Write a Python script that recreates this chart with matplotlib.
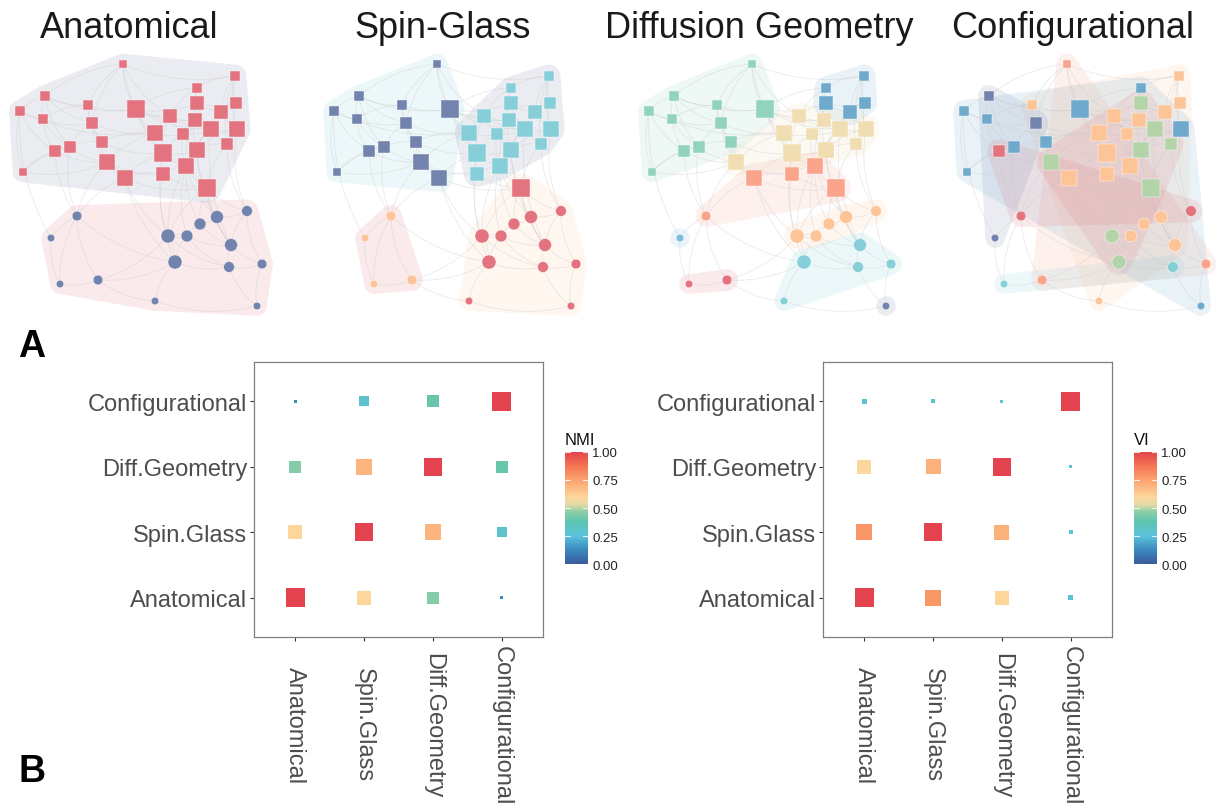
import numpy as np
import matplotlib.pyplot as plt
from matplotlib.colors import LinearSegmentedColormap, Normalize
from matplotlib.patches import Polygon
from matplotlib.cm import ScalarMappable
from matplotlib.collections import LineCollection
import matplotlib.transforms as mtransforms

plt.rcParams['font.family'] = ['Liberation Sans', 'DejaVu Sans']

# network layout shared by the four panels (pixel coords of the first panel)
node_x = [123, 235, 197, 45, 88, 136, 197, 236, 20, 43,
          170, 221, 195, 92, 155, 183, 211, 237, 102, 70,
          55, 227, 163, 197, 107, 186, 23, 163, 125, 207,
          77, 51, 247, 217, 200, 168, 187, 231, 175, 229,
          262, 60, 98, 155, 257]
node_y = [65, 77, 89, 97, 106, 110, 104, 104, 112, 120,
          117, 113, 121, 124, 134, 135, 130, 130, 143, 148,
          152, 145, 154, 151, 163, 167, 173, 175, 179, 189,
          217, 239, 212, 218, 225, 237, 237, 246, 263, 268,
          265, 285, 281, 302, 307]
node_size = [8, 10, 10, 9, 10, 16, 13, 11, 9, 10,
             13, 13, 13, 12, 15, 12, 14, 14, 11, 12,
             11, 12, 16, 15, 15, 15, 8, 13, 15, 16,
             9, 7, 10, 12, 11, 13, 11, 12, 13, 10,
             9, 7, 9, 7, 7]
node_shape = ['s'] * 30 + ['o'] * 15

edges = [(0, 5), (0, 3), (0, 4), (0, 1), (0, 13), (0, 10), (0, 22),
         (1, 2), (1, 7), (1, 11), (1, 17), (1, 21),
         (2, 6), (2, 10), (2, 12), (2, 5),
         (3, 8), (3, 9), (3, 4), (3, 5), (3, 19), (3, 13),
         (4, 5), (4, 13), (4, 9), (4, 18),
         (5, 10), (5, 14), (5, 12), (5, 6), (5, 16), (5, 22),
         (6, 7), (6, 12), (6, 11), (6, 16), (7, 11), (7, 17),
         (8, 9), (8, 26), (8, 20), (8, 14),
         (9, 19), (9, 20), (9, 13),
         (10, 14), (10, 15), (10, 12), (10, 16), (10, 22),
         (11, 16), (11, 17), (11, 23),
         (12, 15), (12, 16), (12, 23), (12, 25),
         (13, 18), (13, 19), (13, 24), (13, 14),
         (14, 15), (14, 22), (14, 18), (14, 24),
         (15, 16), (15, 23), (15, 22), (15, 25),
         (16, 17), (16, 21), (16, 23), (16, 25), (17, 21), (17, 23),
         (18, 19), (18, 24), (18, 28), (18, 22),
         (19, 20), (19, 24), (19, 26), (20, 24), (20, 26),
         (21, 23), (21, 29), (22, 25), (22, 27), (22, 28), (22, 23),
         (23, 25), (23, 29), (24, 28), (24, 27), (25, 29), (25, 27),
         (26, 24), (27, 28), (27, 29), (28, 29),
         (28, 30), (24, 30), (19, 30), (20, 30), (8, 31),
         (29, 33), (29, 34), (29, 35), (29, 32), (25, 34), (25, 35),
         (25, 36), (23, 37), (27, 35), (28, 35), (28, 38), (22, 38),
         (16, 37), (29, 37), (25, 33), (17, 32), (21, 32),
         (30, 31), (30, 41), (30, 42), (30, 38), (31, 41), (41, 42),
         (42, 38), (42, 43), (42, 35), (35, 36), (35, 34), (34, 33),
         (33, 32), (33, 37), (32, 37), (32, 40), (36, 37), (36, 38),
         (37, 39), (37, 40), (38, 39), (38, 43), (38, 35), (39, 40),
         (39, 44), (40, 44), (43, 44), (35, 39), (36, 39), (34, 37)]

palette = {'red': '#E3737E', 'slate': '#7283AE', 'cyan': '#86CFD8',
           'peach': '#FDC497', 'green': '#92D3BD', 'blue': '#6FA9CC',
           'tan': '#F0DDB2', 'salmon': '#FBA48C', 'sky': '#7BBEDA',
           'sage': '#B3D4A8'}

titles = ['Anatomical', 'Spin-Glass', 'Diffusion Geometry', 'Configurational']
title_x = [129, 443, 759, 1073]
panel_dx = [0, 314, 629, 944]

anatomical = ['red'] * 30 + ['slate'] * 15
spin_glass = ['slate', 'cyan', 'cyan', 'slate', 'slate', 'slate', 'cyan', 'cyan', 'slate', 'slate',
              'cyan', 'cyan', 'cyan', 'slate', 'cyan', 'cyan', 'cyan', 'cyan', 'slate', 'slate',
              'slate', 'cyan', 'cyan', 'cyan', 'slate', 'cyan', 'slate', 'cyan', 'slate', 'red',
              'peach', 'peach', 'red', 'red', 'red', 'red', 'red', 'red', 'red', 'red',
              'red', 'peach', 'peach', 'red', 'red']
diffusion = ['green', 'blue', 'blue', 'green', 'green', 'green', 'blue', 'blue', 'green', 'green',
             'tan', 'blue', 'tan', 'green', 'tan', 'tan', 'tan', 'tan', 'green', 'green',
             'green', 'tan', 'tan', 'tan', 'tan', 'salmon', 'green', 'salmon', 'salmon', 'salmon',
             'salmon', 'sky', 'peach', 'peach', 'peach', 'peach', 'peach', 'cyan', 'cyan', 'cyan',
             'cyan', 'red', 'red', 'cyan', 'slate']
configurational = ['salmon', 'peach', 'blue', 'slate', 'peach', 'blue', 'sage', 'peach', 'blue', 'blue',
                   'peach', 'peach', 'peach', 'slate', 'peach', 'peach', 'sage', 'blue', 'blue', 'blue',
                   'red', 'sage', 'peach', 'sage', 'sage', 'peach', 'blue', 'peach', 'peach', 'sage',
                   'red', 'slate', 'red', 'peach', 'peach', 'sage', 'peach', 'peach', 'sage', 'cyan',
                   'salmon', 'cyan', 'salmon', 'peach', 'blue']
memberships = [anatomical, spin_glass, diffusion, configurational]

# hull fill colour used for each community
hull_fill = [{'red': 'slate', 'slate': 'red'},
             {'slate': 'cyan', 'cyan': 'slate', 'red': 'peach', 'peach': 'red'},
             {},
             {'sage': 'red'}]

methods = ['Anatomical', 'Spin.Glass', 'Diff.Geometry', 'Configurational']
nmi = np.array([[1.00, 0.60, 0.45, 0.13],
                [0.60, 1.00, 0.70, 0.29],
                [0.45, 0.70, 1.00, 0.40],
                [0.13, 0.29, 0.40, 1.00]])
vi = np.array([[1.00, 0.78, 0.60, 0.27],
               [0.78, 1.00, 0.71, 0.255],
               [0.60, 0.71, 1.00, 0.25],
               [0.27, 0.255, 0.25, 1.00]])

cmap = LinearSegmentedColormap.from_list('spec', [
    (0.0, '#3B5A9B'), (0.12, '#3A87BE'), (0.25, '#5BC2DC'), (0.38, '#5EC4AF'),
    (0.47, '#8FCFA6'), (0.53, '#E4DAA4'), (0.6, '#FDD69C'), (0.75, '#FBA36E'),
    (0.88, '#F47452'), (1.0, '#E2434F')])


def convex_hull(pts):
    pts = sorted(map(tuple, pts))

    def cross(o, a, b):
        return (a[0] - o[0]) * (b[1] - o[1]) - (a[1] - o[1]) * (b[0] - o[0])
    lower, upper = [], []
    for p in pts:
        while len(lower) >= 2 and cross(lower[-2], lower[-1], p) <= 0:
            lower.pop()
        lower.append(p)
    for p in reversed(pts):
        while len(upper) >= 2 and cross(upper[-2], upper[-1], p) <= 0:
            upper.pop()
        upper.append(p)
    return np.array(lower[:-1] + upper[:-1])


def padded_hull(xs, ys, rs):
    ang = np.linspace(0, 2 * np.pi, 40, endpoint=False)
    pts = np.concatenate([np.c_[x + r * np.cos(ang), y + r * np.sin(ang)]
                          for x, y, r in zip(xs, ys, rs)])
    return convex_hull(pts)


def arc(p, q, bend=0.15, n=24):
    p = np.asarray(p, float)
    q = np.asarray(q, float)
    d = q - p
    ctrl = (p + q) / 2 + bend * np.array([-d[1], d[0]])
    t = np.linspace(0, 1, n)[:, None]
    return (1 - t) ** 2 * p + 2 * (1 - t) * t * ctrl + t ** 2 * q


fig = plt.figure(figsize=(12.17, 8.04), dpi=100)
net = fig.add_axes([0, 0, 1, 1])
net.set_xlim(0, 1217)
net.set_ylim(804, 0)
net.axis('off')

nx = np.array(node_x, float)
ny = np.array(node_y, float)
ns = np.array(node_size, float) * 1.08

for k in range(4):
    xs = nx + panel_dx[k]
    comm = memberships[k]
    # community hulls
    for c in dict.fromkeys(comm):
        idx = [i for i, m in enumerate(comm) if m == c]
        poly = padded_hull(xs[idx], ny[idx], ns[idx] / 2 + 6)
        fill = palette[hull_fill[k].get(c, c)]
        net.add_patch(Polygon(poly, closed=True, facecolor=fill, edgecolor='none',
                              alpha=0.15, zorder=1))
    # edges
    segs = [arc((xs[a], ny[a]), (xs[b], ny[b])) for a, b in edges]
    net.add_collection(LineCollection(segs, colors='#C8C8C8', linewidths=0.55,
                                      alpha=0.4, zorder=2))
    # nodes
    cols = [palette[m] for m in comm]
    for shape in ['s', 'o']:
        idx = [i for i in range(len(comm)) if node_shape[i] == shape]
        net.scatter(xs[idx], ny[idx], s=(ns[idx] * 0.72) ** 2, marker=shape,
                    c=[cols[i] for i in idx], edgecolors='white', linewidths=0.3,
                    zorder=3)
    net.text(title_x[k], 28, titles[k], ha='center', va='center', fontsize=26,
             color='#1A1A1A')

fig.text(32 / 1217, 1 - 347 / 804, 'A', fontsize=27, fontweight='bold',
         ha='center', va='center')
fig.text(32 / 1217, 1 - 772 / 804, 'B', fontsize=27, fontweight='bold',
         ha='center', va='center')


def matrix_panel(left, cbar_left, M, name):
    ax = fig.add_axes([left / 1217, 1 - 638 / 804, 289 / 1217, 275 / 804])
    xs, ys, vals = [], [], []
    for i in range(4):
        for j in range(4):
            xs.append(j + 1)
            ys.append(i + 1)
            vals.append(M[i, j])
    vals = np.array(vals)
    side = 3 + 15.5 * np.sqrt((vals - vals.min()) / (vals.max() - vals.min()))
    ax.scatter(xs, ys, s=(side * 0.72) ** 2, c=vals, cmap=cmap, vmin=0, vmax=1,
               marker='s', linewidths=0)
    ax.set_xlim(0.4, 4.6)
    ax.set_ylim(0.4, 4.6)
    ax.set_xticks(range(1, 5))
    ax.set_xticklabels([])
    ax.set_yticks(range(1, 5))
    ax.set_yticklabels(methods, fontsize=17, color='#4D4D4D')
    ax.tick_params(length=3, width=0.8, color='#333333', pad=2)
    for sp in ax.spines.values():
        sp.set_color('#7F7F7F')
        sp.set_linewidth(0.9)
    trans = mtransforms.blended_transform_factory(ax.transData, ax.transAxes)
    for j, lab in enumerate(methods):
        ax.text(j + 1, -0.318, lab, transform=trans, rotation=270, ha='center',
                va='center', fontsize=17, color='#4D4D4D')

    cax = fig.add_axes([cbar_left / 1217, 1 - 565 / 804, 23 / 1217, 112 / 804])
    cb = fig.colorbar(ScalarMappable(Normalize(0, 1), cmap), cax=cax,
                      ticks=[0, 0.25, 0.5, 0.75, 1])
    cb.outline.set_visible(False)
    cax.set_yticklabels(['0.00', '0.25', '0.50', '0.75', '1.00'])
    cax.tick_params(length=0, labelsize=9.5, pad=3, labelcolor='#222222')
    for t in [0, 0.25, 0.5, 0.75, 1]:
        for x0, x1 in [(0, 0.2), (0.8, 1)]:
            cax.plot([x0, x1], [t, t], color='white', lw=0.8, alpha=0.8,
                     transform=cax.get_yaxis_transform())
    fig.text(cbar_left / 1217, 1 - 441 / 804, name, fontsize=12, ha='left',
             va='center', color='#111111')


matrix_panel(254, 565, nmi, 'NMI')
matrix_panel(823, 1134, vi, 'VI')

fig.savefig('out.png', dpi=100)
